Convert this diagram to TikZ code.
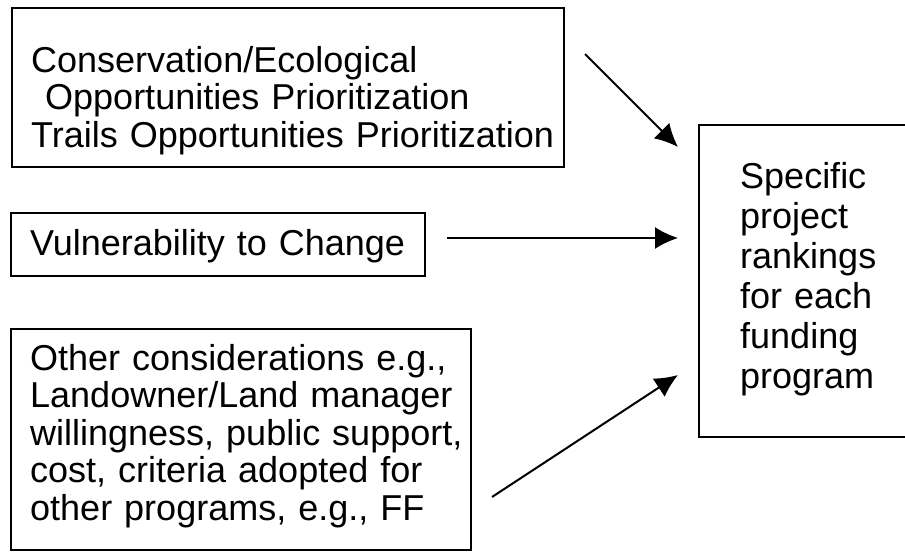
\documentclass[tikz,border=0pt]{standalone}
\usepackage{fontspec}
\setmainfont{Liberation Sans}
\usetikzlibrary{arrows.meta}
\begin{document}
\begin{tikzpicture}[x=1pt,y=-1pt,
  box/.style={draw,line width=1.7pt,inner sep=0pt,anchor=north west},
  txt/.style={anchor=base west,inner sep=0pt,text width=#1,align=left,
    font=\fontsize{36}{37.5}\selectfont},
  feed/.style={line width=2pt,-{Latex[length=23pt,width=22pt]}}]
  \useasboundingbox (0,0) rectangle (905,554);
  \clip (0,0) rectangle (905,554);
  \node [box,minimum width=552pt,minimum height=159pt] (cons) at (11,7) {};
  \node [box,minimum width=414pt,minimum height=63pt] (vuln) at (10,212) {};
  \node [box,minimum width=460pt,minimum height=221pt] (other) at (10,328) {};
  \node [box,minimum width=240pt,minimum height=312pt] (rank) at (698,124) {};
  \node [txt=540pt] (consT) at (31,72) {Conservation/Ecological\\
    \hspace*{14pt}Opportunities Prioritization\\
    Trails Opportunities Prioritization};
  \node [txt=400pt] (vulnT) at (30,255) {Vulnerability to Change};
  \node [txt=440pt] (otherT) at (30,370) {Other considerations e.g.,\\
    Landowner/Land manager\\ willingness, public support,\\
    cost, criteria adopted for\\ other programs, e.g., FF};
  \node [txt=160pt,font=\fontsize{36}{40}\selectfont] (rankT) at (740,188)
    {Specific\\ project\\ rankings\\ for each\\ funding\\ program};
  \coordinate (c1) at (585,54);
  \coordinate (c2) at (447,238);
  \coordinate (c3) at (492,497);
  \coordinate (r1) at (678,147);
  \coordinate (r2) at (678,238);
  \coordinate (r3) at (678,375);
  \draw [feed] (c1) -- (r1);
  \draw [feed] (c2) -- (r2);
  \draw [feed] (c3) -- (r3);
\end{tikzpicture}
\end{document}
